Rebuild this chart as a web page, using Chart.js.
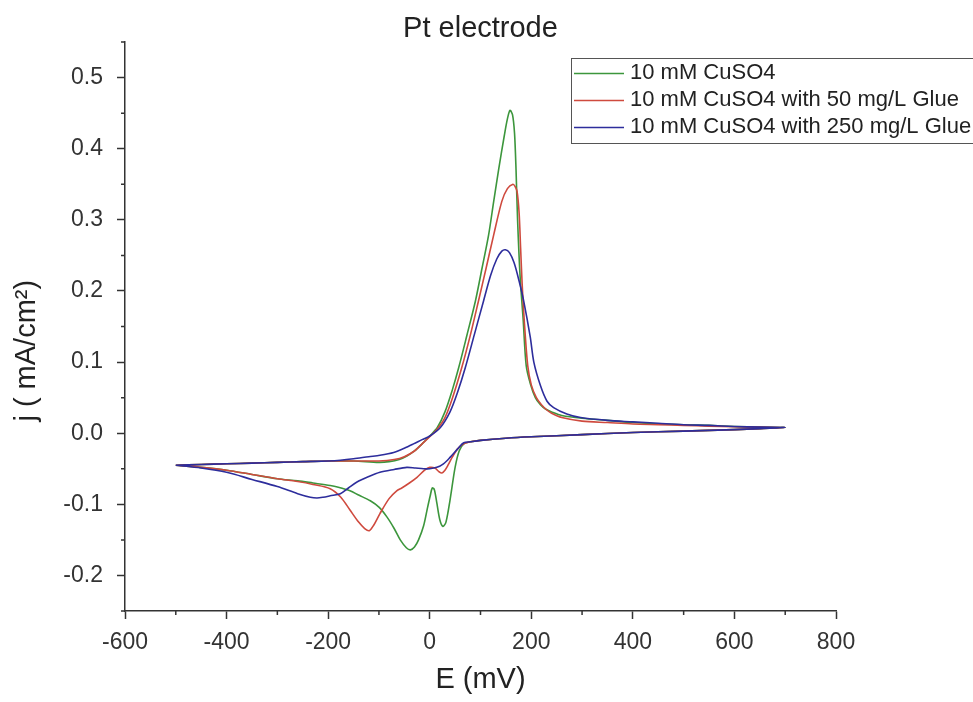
<!DOCTYPE html>
<html><head><meta charset="utf-8">
<script src="https://cdn.jsdelivr.net/npm/chart.js@4.4.1/dist/chart.umd.min.js"></script>
<style>html,body{margin:0;padding:0;background:#fff;}</style>
</head><body>
<canvas id="c" width="973" height="702"></canvas>
<script>
const seriesLabels = ['10 mM CuSO4', '10 mM CuSO4 with 50 mg/L Glue', '10 mM CuSO4 with 250 mg/L Glue'];
const seriesColors = ['#3c963c', '#cf4a3e', '#2d2d9c'];

// 10 mM CuSO4 : forward sweep (-500 -> 700) then reverse (700 -> -500)
const greenE = [-500,-450,-400,-350,-300,-250,-200,-150,-100,-80,-60,-45,-30,-15,0,15,30,45,57,73,90,103,116,126,136,147,153,158,163,167,170,173,178,184,190,198,208,218,228,240,260,300,350,400,450,500,550,600,650,700,
  650,600,500,400,300,200,150,100,80,67,58,50,40,32,26,20,14,9,5,1,-5,-12,-22,-30,-38,-46,-58,-70,-84,-100,-117,-140,-157,-180,-196,-230,-260,-300,-350,-400,-450,-500];
const greenJ = [-0.045,-0.044,-0.043,-0.042,-0.041,-0.040,-0.039,-0.039,-0.041,-0.040,-0.037,-0.032,-0.025,-0.015,-0.004,0.008,0.030,0.062,0.092,0.137,0.186,0.232,0.279,0.326,0.372,0.419,0.442,0.454,0.448,0.422,0.37,0.30,0.22,0.16,0.095,0.070,0.050,0.040,0.034,0.030,0.025,0.021,0.018,0.015,0.013,0.012,0.011,0.0095,0.0085,0.008,
  0.0065,0.005,0.003,0.001,-0.002,-0.005,-0.007,-0.010,-0.012,-0.015,-0.025,-0.048,-0.094,-0.125,-0.131,-0.122,-0.098,-0.079,-0.077,-0.088,-0.107,-0.13,-0.15,-0.16,-0.164,-0.161,-0.15,-0.134,-0.118,-0.104,-0.095,-0.087,-0.081,-0.076,-0.0735,-0.070,-0.067,-0.064,-0.058,-0.052,-0.048,-0.045];

// 10 mM CuSO4 with 50 mg/L Glue
const redE = [-500,-450,-400,-350,-300,-250,-200,-150,-100,-70,-50,-30,-15,0,15,30,45,63,80,96,111,126,142,153,164,168,172,176,179,182,186,193,200,210,220,230,240,260,300,350,400,450,500,550,600,650,700,
  650,600,500,400,300,200,150,100,80,67,55,45,36,30,24,18,10,0,-10,-25,-40,-55,-65,-80,-98,-110,-119,-128,-140,-157,-175,-196,-230,-260,-300,-350,-400,-450,-500];
const redJ = [-0.045,-0.044,-0.043,-0.042,-0.041,-0.040,-0.039,-0.039,-0.039,-0.037,-0.033,-0.025,-0.015,-0.005,0.006,0.022,0.050,0.092,0.138,0.186,0.232,0.279,0.326,0.344,0.350,0.347,0.340,0.31,0.26,0.21,0.16,0.095,0.068,0.050,0.040,0.033,0.028,0.022,0.017,0.015,0.013,0.012,0.011,0.010,0.009,0.0085,0.008,
  0.0065,0.005,0.003,0.001,-0.002,-0.005,-0.007,-0.010,-0.012,-0.015,-0.022,-0.033,-0.045,-0.052,-0.056,-0.054,-0.049,-0.048,-0.052,-0.062,-0.070,-0.077,-0.081,-0.092,-0.113,-0.129,-0.137,-0.134,-0.125,-0.108,-0.090,-0.078,-0.072,-0.068,-0.064,-0.058,-0.052,-0.048,-0.045];

// 10 mM CuSO4 with 250 mg/L Glue
const blueE = [-500,-450,-400,-350,-300,-250,-200,-176,-150,-120,-98,-71,-50,-32,-15,1,21,40,55,70,88,106,120,132,142,149,157,166,176,185,198,205,218,231,244,270,297,350,400,450,500,550,600,650,700,
  650,600,500,400,300,200,150,100,80,67,55,40,27,14,0,-12,-28,-45,-70,-98,-120,-144,-160,-176,-196,-210,-222,-235,-260,-300,-350,-400,-450,-500];
const blueJ = [-0.045,-0.044,-0.043,-0.042,-0.041,-0.040,-0.039,-0.038,-0.036,-0.033,-0.031,-0.027,-0.021,-0.015,-0.009,-0.0035,0.008,0.030,0.058,0.092,0.139,0.186,0.222,0.245,0.256,0.258,0.254,0.240,0.214,0.186,0.135,0.100,0.067,0.045,0.036,0.027,0.022,0.018,0.016,0.014,0.012,0.011,0.0095,0.0085,0.008,
  0.0065,0.005,0.003,0.001,-0.002,-0.005,-0.007,-0.010,-0.012,-0.0135,-0.022,-0.034,-0.043,-0.048,-0.050,-0.050,-0.049,-0.048,-0.051,-0.055,-0.061,-0.069,-0.077,-0.085,-0.088,-0.090,-0.091,-0.090,-0.085,-0.075,-0.065,-0.055,-0.049,-0.045];

const xTicks = [-600,-400,-200,0,200,400,600,800];
const xMinorTicks = [-500,-300,-100,100,300,500,700];
const yTicks = [-0.2,-0.1,0.0,0.1,0.2,0.3,0.4,0.5];
const yMinorTicks = [-0.25,-0.15,-0.05,0.05,0.15,0.25,0.35,0.45,0.55];

const FONT = 'Liberation Sans, Arial, sans-serif';
const AXIS = '#333333';

function pts(E, J) { return E.map((e, i) => ({x: e, y: J[i]})); }

const minorTicks = {
  id: 'minorTicks',
  afterDraw(chart) {
    const ctx = chart.ctx, a = chart.chartArea;
    const xs = chart.scales.x, ys = chart.scales.y;
    ctx.save();
    ctx.strokeStyle = AXIS; ctx.lineWidth = 1.5;
    ctx.beginPath();
    xMinorTicks.forEach(v => { const p = xs.getPixelForValue(v); ctx.moveTo(p, a.bottom); ctx.lineTo(p, a.bottom + 4); });
    yMinorTicks.forEach(v => { const p = ys.getPixelForValue(v); ctx.moveTo(a.left, p); ctx.lineTo(a.left - 4, p); });
    ctx.stroke();
    ctx.restore();
  }
};

const boxLegend = {
  id: 'boxLegend',
  afterDraw(chart) {
    const ctx = chart.ctx;
    ctx.save();
    ctx.fillStyle = '#ffffff';
    ctx.fillRect(571, 58, 410, 85);
    ctx.strokeStyle = '#555'; ctx.lineWidth = 1;
    ctx.strokeRect(571.5, 58.5, 410, 85);
    ctx.font = '22px ' + FONT;
    ctx.textBaseline = 'middle';
    chart.data.datasets.forEach((ds, i) => {
      const y = 73 + i * 27;
      ctx.strokeStyle = ds.borderColor; ctx.lineWidth = 1.6;
      ctx.beginPath(); ctx.moveTo(574, y + 0.5); ctx.lineTo(624, y + 0.5); ctx.stroke();
      ctx.fillStyle = '#222';
      ctx.fillText(ds.label, 630, y);
    });
    ctx.restore();
  }
};

new Chart(document.getElementById('c'), {
  type: 'scatter',
  data: {
    datasets: [
      {label: seriesLabels[0], data: pts(greenE, greenJ), borderColor: seriesColors[0], order: 2},
      {label: seriesLabels[1], data: pts(redE, redJ), borderColor: seriesColors[1], order: 1},
      {label: seriesLabels[2], data: pts(blueE, blueJ), borderColor: seriesColors[2], order: 0}
    ].map(d => Object.assign(d, {showLine: true, pointRadius: 0, borderWidth: 1.6, tension: 0.3, fill: false, backgroundColor: d.borderColor}))
  },
  options: {
    responsive: false,
    animation: false,
    devicePixelRatio: 1,
    layout: {padding: {left: 0, right: 137, top: 0, bottom: 0}},
    plugins: {
      legend: {display: false},
      tooltip: {enabled: false},
      title: {display: true, fullSize: false, text: 'Pt electrode', color: '#222', font: {family: FONT, size: 29, weight: 'normal', lineHeight: 0.9}, padding: {top: 16, bottom: 0}}
    },
    scales: {
      x: {
        type: 'linear', min: -600, max: 800,
        afterBuildTicks: s => { s.ticks = xTicks.map(v => ({value: v})); },
        afterFit: s => { s.height = 91; },
        grid: {display: true, drawOnChartArea: false, drawTicks: true, tickLength: 8, tickColor: AXIS, tickWidth: 1.5},
        border: {display: true, color: AXIS, width: 1.5},
        ticks: {font: {family: FONT, size: 23}, color: '#333', padding: 10, maxRotation: 0, autoSkip: false},
        title: {display: true, text: 'E (mV)', color: '#222', font: {family: FONT, size: 29}, padding: {top: 0, bottom: 5}}
      },
      y: {
        type: 'linear', min: -0.25, max: 0.55,
        afterBuildTicks: s => { s.ticks = yTicks.map(v => ({value: v})); },
        afterFit: s => { s.width = 125; },
        grid: {display: true, drawOnChartArea: false, drawTicks: true, tickLength: 8, tickColor: AXIS, tickWidth: 1.5},
        border: {display: true, color: AXIS, width: 1.5},
        ticks: {font: {family: FONT, size: 23}, color: '#333', padding: 14, callback: v => v.toFixed(1), autoSkip: false},
        title: {display: true, text: 'j ( mA/cm²)      ', color: '#222', font: {family: FONT, size: 29}, padding: {top: 10, bottom: 0}}
      }
    }
  },
  plugins: [minorTicks, boxLegend]
});
</script>
</body></html>
